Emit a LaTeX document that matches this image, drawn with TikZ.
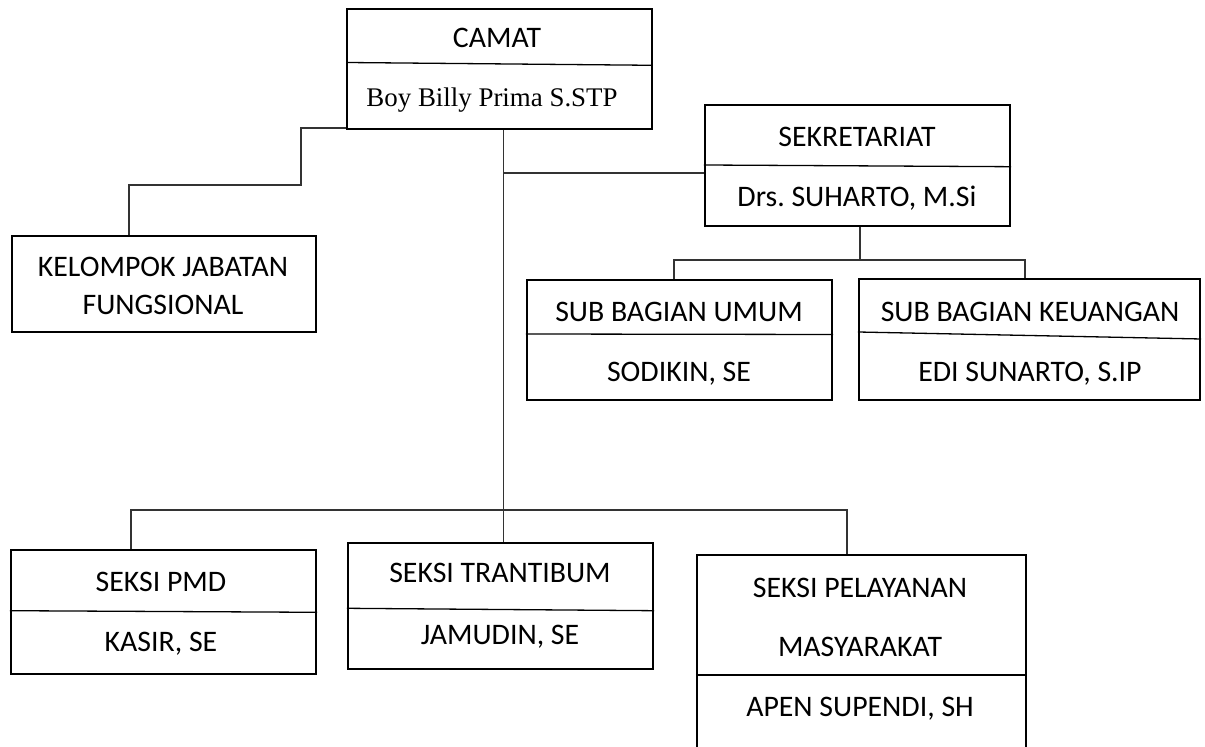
\documentclass[tikz,border=0pt]{standalone}
\usepackage{fontspec}
\setmainfont{Carlito}
\newfontfamily\timesf{Liberation Serif}
\usetikzlibrary{calc}
\frenchspacing
\begin{document}
\begin{tikzpicture}[x=0.5pt,y=-0.5pt,
  box/.style={draw=black, line width=1.1pt, rectangle, inner sep=0pt},
  txt/.style={inner sep=0pt, text height=9.6pt, text depth=0pt, font=\fontsize{14.9}{17}\selectfont},
  serif/.style={inner sep=0pt, text height=8.9pt, text depth=0pt, font=\timesf\fontsize{13.45}{16}\selectfont},
  conn/.style={line width=0.65pt, draw=black!80},
  divider/.style={line width=0.65pt, draw=black}]
\useasboundingbox (0,0) rectangle (1205,747);

% boxes
\node[box, line width=0.9pt, minimum width=152.5pt, minimum height=60pt] (camat) at (499.5,69) {};
\node[box, minimum width=152pt, minimum height=48pt] (kjf) at (164,284) {};
\node[box, minimum width=152.5pt, minimum height=60.5pt] (sekre) at (857.5,165.5) {};
\node[box, minimum width=152.5pt, minimum height=60pt] (sbu) at (679.5,340) {};
\node[box, minimum width=170.5pt, minimum height=60.5pt] (sbk) at (1029.5,339.5) {};
\node[box, minimum width=152.5pt, minimum height=62pt] (pmd) at (163.5,612) {};
\node[box, minimum width=152.5pt, minimum height=63pt] (tran) at (500.5,606) {};
\node[box, minimum width=164.5pt, minimum height=105pt] (pel) at (861.5,660) {};

% dividers
\draw[divider] (camat.west |- 0,62.5) -- (camat.east |- 0,65.3);
\draw[divider] (sekre.west |- 0,165) -- (sekre.east |- 0,166.7);
\draw[divider] (sbu.west |- 0,334) -- (sbu.east |- 0,334.5);
\draw[divider] (sbk.west |- 0,332) -- (sbk.east |- 0,339);
\draw[divider] (pmd.west |- 0,610.7) -- (pmd.east |- 0,612.3);
\draw[divider] (tran.west |- 0,608.3) -- (tran.east |- 0,610.7);
\draw[divider] (pel.west |- 0,675) -- (pel.east |- 0,675);

% texts
\node[txt] (tcamat) at (497,38) {CAMAT};
\node[serif] (tboy) at (492,97.5) {Boy Billy Prima S.STP};
\node[txt] (tkjf1) at (163,267) {KELOMPOK JABATAN};
\node[txt] (tkjf2) at (163,305) {FUNGSIONAL};
\node[txt] (tsek) at (857,137) {SEKRETARIAT};
\node[txt] (tdrs) at (857,197) {Drs. SUHARTO, M.Si};
\node[txt] (tsbu) at (679,312) {SUB BAGIAN UMUM};
\node[txt] (tsod) at (679,372) {SODIKIN, SE};
\node[txt] (tsbk) at (1030,312) {SUB BAGIAN KEUANGAN};
\node[txt] (tedi) at (1030,372) {EDI SUNARTO, S.IP};
\node[txt] (tpmd) at (161,582) {SEKSI PMD};
\node[txt] (tkas) at (161,642) {KASIR, SE};
\node[txt] (ttran) at (500,573) {SEKSI TRANTIBUM};
\node[txt] (tjam) at (500,635) {JAMUDIN, SE};
\node[txt] (tpel1) at (860,588) {SEKSI PELAYANAN};
\node[txt] (tpel2) at (860,647) {MASYARAKAT};
\node[txt] (tapen) at (860,707) {APEN SUPENDI, SH};

% connectors
\coordinate (t0) at ($(camat.south)+(4,0)$);
\draw[conn] (t0) -- (t0 |- tran.north);
\coordinate (j1) at (503.5,173);
\draw[conn] (j1) -- (j1 -| sekre.west);
\draw[conn] ($(camat.south west)+(0,-2)$) -| (301,185) -| ($(kjf.north)+(-35,0)$);
\coordinate (s0) at ($(sekre.south)+(2.5,0)$);
\draw[conn] (s0) -- (s0 |- 0,260);
\draw[conn] ($(sbu.north)+(-5.5,0)$) |- (1025,260) -- ($(sbk.north)+(-4.5,0)$);
\draw[conn] ($(pmd.north)+(-32.5,0)$) |- (847,510) -- ($(pel.north)+(-14.5,0)$);
\end{tikzpicture}
\end{document}
